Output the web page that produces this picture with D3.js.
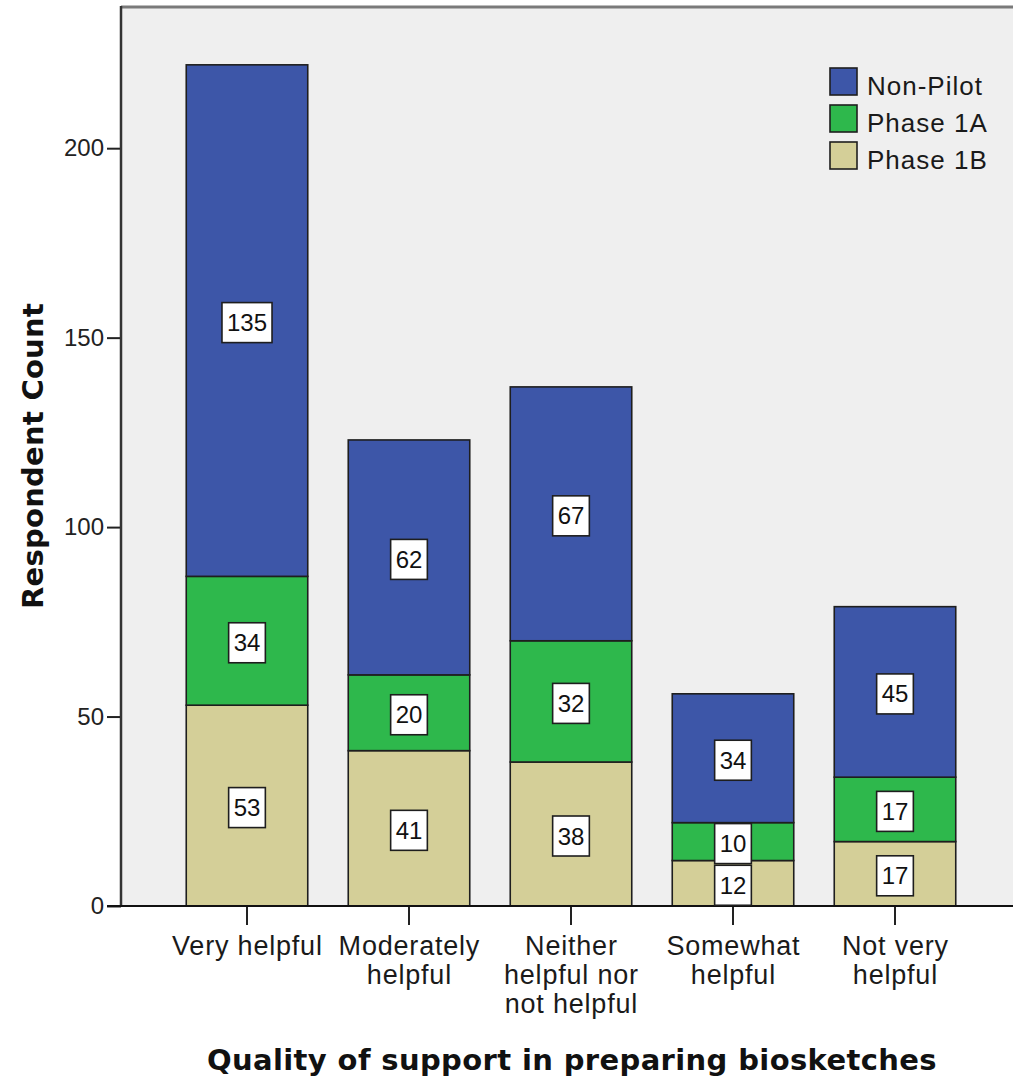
<!DOCTYPE html>
<html>
<head>
<meta charset="utf-8">
<script src="https://cdn.jsdelivr.net/npm/d3@7/dist/d3.min.js"></script>
<style>
  html, body { margin: 0; padding: 0; background: #ffffff; }
  svg { display: block; font-family: "Liberation Sans", Arial, sans-serif; }
</style>
</head>
<body>
<svg id="chart" width="1013" height="1080"></svg>
<script>
// Categories (x axis) and their wrapped label lines
const categories = ["Very helpful", "Moderately helpful", "Neither helpful nor not helpful", "Somewhat helpful", "Not very helpful"];
const categoryLines = [["Very helpful"], ["Moderately", "helpful"], ["Neither", "helpful nor", "not helpful"], ["Somewhat", "helpful"], ["Not very", "helpful"]];

// Series, stacked bottom to top
const seriesNames = ["Phase 1B", "Phase 1A", "Non-Pilot"];
const phase1B  = [53, 41, 38, 12, 17];
const phase1A  = [34, 20, 32, 10, 17];
const nonPilot = [135, 62, 67, 34, 45];

const yTicks = [0, 50, 100, 150, 200];
const legendOrder = ["Non-Pilot", "Phase 1A", "Phase 1B"];
const colors = { "Non-Pilot": "#3d56a8", "Phase 1A": "#2eb84c", "Phase 1B": "#d4cf98" };

const rows = categories.map((c, i) => ({
  category: c,
  "Phase 1B": phase1B[i],
  "Phase 1A": phase1A[i],
  "Non-Pilot": nonPilot[i]
}));

const svg = d3.select("#chart");
const plot = { left: 121, top: 8, right: 1013, bottom: 906 };

const x = d3.scaleBand()
  .domain(categories)
  .range([166, 976])
  .paddingInner(0.25)
  .paddingOuter(0.125);

const y = d3.scaleLinear()
  .domain([0, 237])
  .range([plot.bottom, plot.top]);

// Plot background
svg.append("rect")
  .attr("x", plot.left).attr("y", plot.top)
  .attr("width", plot.right - plot.left).attr("height", plot.bottom - plot.top)
  .attr("fill", "#efefef");

// Top frame line
svg.append("line")
  .attr("x1", plot.left).attr("x2", plot.right)
  .attr("y1", plot.top - 1).attr("y2", plot.top - 1)
  .attr("stroke", "#7a7a7a").attr("stroke-width", 3);

const stack = d3.stack().keys(seriesNames);
const stacked = stack(rows);

// Bars
const layers = svg.append("g").selectAll("g")
  .data(stacked)
  .join("g")
  .attr("fill", d => colors[d.key]);

layers.selectAll("rect")
  .data(d => d.map(s => ({ key: d.key, s })))
  .join("rect")
  .attr("x", d => x(d.s.data.category))
  .attr("y", d => y(d.s[1]))
  .attr("width", x.bandwidth())
  .attr("height", d => y(d.s[0]) - y(d.s[1]))
  .attr("stroke", "#1e1e1e")
  .attr("stroke-width", 1.6);

// Y axis
const yAxis = d3.axisLeft(y)
  .tickValues(yTicks)
  .tickSize(14)
  .tickPadding(3)
  .tickFormat(d3.format("d"));

const gy = svg.append("g")
  .attr("transform", `translate(${plot.left},0)`)
  .call(yAxis);
gy.select(".domain").remove();
gy.selectAll(".tick line").attr("stroke", "#222").attr("stroke-width", 2);
gy.selectAll(".tick text")
  .attr("font-size", 24)
  .attr("fill", "#222")
  .attr("font-family", "Liberation Sans, Arial, sans-serif");

svg.append("line")
  .attr("x1", plot.left).attr("x2", plot.left)
  .attr("y1", plot.top - 2).attr("y2", plot.bottom)
  .attr("stroke", "#333").attr("stroke-width", 2.5);

// X axis
const xAxis = d3.axisBottom(x).tickSize(19).tickFormat("");
const gx = svg.append("g")
  .attr("transform", `translate(0,${plot.bottom})`)
  .call(xAxis);
gx.select(".domain").remove();
gx.selectAll(".tick line").attr("stroke", "#222").attr("stroke-width", 2);

svg.append("line")
  .attr("x1", plot.left - 14).attr("x2", plot.right)
  .attr("y1", plot.bottom).attr("y2", plot.bottom)
  .attr("stroke", "#111").attr("stroke-width", 2);

// Category labels (wrapped)
const catLabels = svg.append("g")
  .attr("font-size", 27)
  .attr("letter-spacing", 0.8)
  .attr("fill", "#1a1a1a")
  .attr("text-anchor", "middle");
categories.forEach((c, i) => {
  const cx = x(c) + x.bandwidth() / 2 + 0.4;
  const t = catLabels.append("text")
    .attr("x", cx)
    .attr("y", 955);
  categoryLines[i].forEach((line, j) => {
    t.append("tspan")
      .attr("x", cx)
      .attr("dy", j === 0 ? 0 : 29)
      .text(line);
  });
});

// Value boxes
const boxes = svg.append("g");
stacked.forEach(layer => {
  layer.forEach(s => {
    const v = s[1] - s[0];
    const cx = x(s.data.category) + x.bandwidth() / 2;
    const cy = (y(s[0]) + y(s[1])) / 2 + 2;
    const g = boxes.append("g");
    const txt = g.append("text")
      .attr("x", cx).attr("y", cy + 8.5)
      .attr("text-anchor", "middle")
      .attr("font-size", 24)
      .attr("fill", "#111")
      .text(v);
    const w = txt.node().getComputedTextLength() + 10;
    g.insert("rect", "text")
      .attr("x", cx - w / 2).attr("y", cy - 20)
      .attr("width", w).attr("height", 40)
      .attr("fill", "#ffffff")
      .attr("stroke", "#1e1e1e").attr("stroke-width", 1.6);
  });
});

// Legend
const legend = svg.append("g").attr("transform", "translate(830,68)");
legendOrder.forEach((name, i) => {
  const row = legend.append("g").attr("transform", `translate(0,${i * 37})`);
  row.append("rect")
    .attr("width", 27).attr("height", 27)
    .attr("fill", colors[name])
    .attr("stroke", "#1e1e1e").attr("stroke-width", 1.6);
  row.append("text")
    .attr("x", 37).attr("y", 27)
    .attr("font-size", 26)
    .attr("letter-spacing", 1)
    .attr("fill", "#1a1a1a")
    .text(name);
});

// Axis titles, set in a wide bold face
function titleText(sel, str, width) {
  sel.attr("text-anchor", "middle")
    .attr("font-family", "DejaVu Sans, sans-serif")
    .attr("font-size", 29)
    .attr("font-weight", "bold")
    .attr("fill", "#111")
    .text(str);
  const natural = sel.node().getComputedTextLength();
  sel.attr("letter-spacing", Math.max(0, (width - natural) / str.length));
  return sel;
}

titleText(
  svg.append("text")
    .attr("transform", `translate(43,${(plot.top + plot.bottom) / 2 - 1}) rotate(-90)`),
  "Respondent Count", 306);

titleText(
  svg.append("text").attr("x", 572).attr("y", 1070),
  "Quality of support in preparing biosketches", 730);
</script>
</body>
</html>
